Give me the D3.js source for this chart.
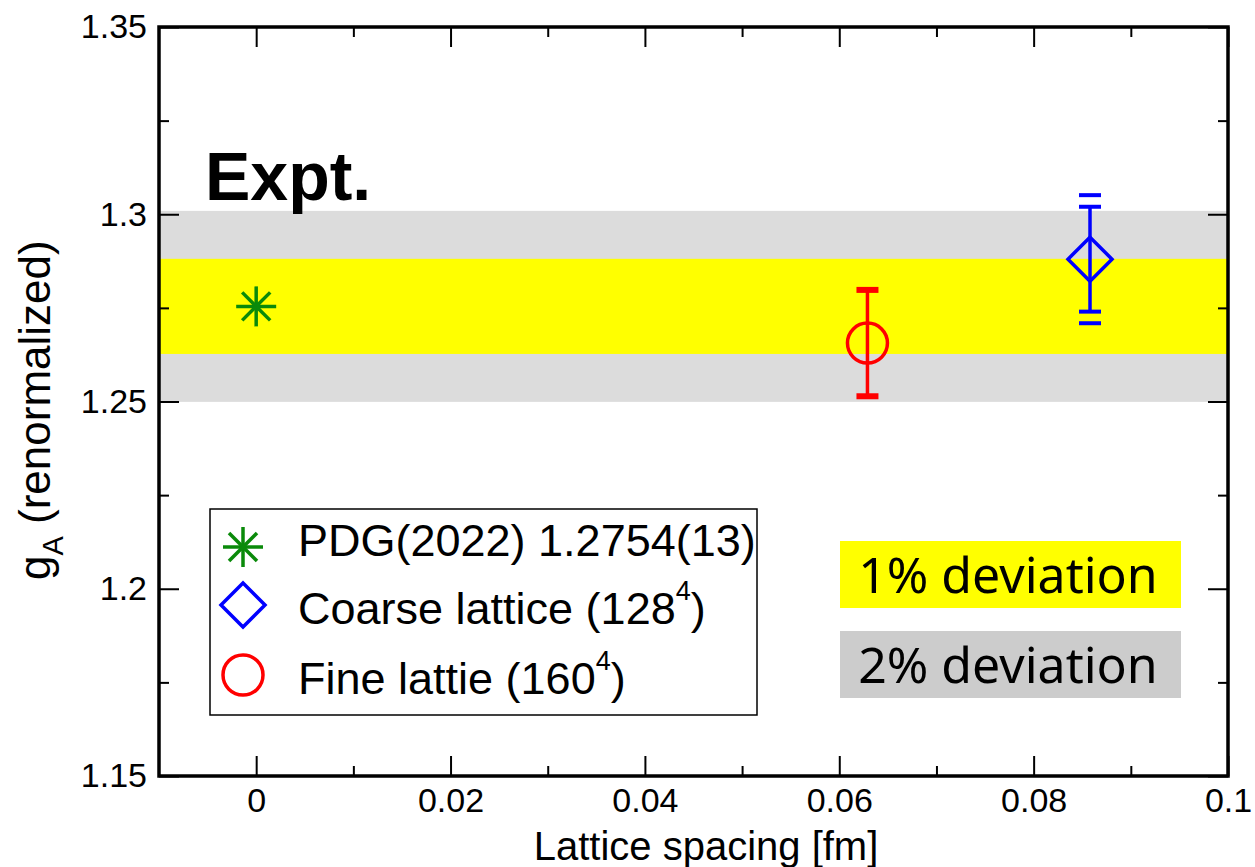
<!DOCTYPE html>
<html>
<head>
<meta charset="utf-8">
<script src="https://cdn.jsdelivr.net/npm/d3@7"></script>
<style>
  html, body { margin: 0; padding: 0; background: #fff; }
  svg { display: block; }
</style>
</head>
<body>
<div id="chart"></div>
<script>
// =======================
// g_A vs lattice spacing
// =======================

// Data
const seriesNames = ["PDG(2022) 1.2754(13)", "Coarse lattice (128", "Fine lattie (160"];
const spacing = [0, 0.0858, 0.0629];
const gA = [1.2754, 1.2880, 1.2656];
const errInner = [0, 0.0140, 0.0142];
const errOuter = [0, 0.0171, 0];
const seriesColors = ["#0a8a0a", "#0000ff", "#ff0000"];

// 2% and 1% deviation bands around the PDG value
const bandLow = [1.2499, 1.2627];
const bandHigh = [1.3009, 1.2881];
const bandColors = ["#dcdcdc", "#ffff00"];

// Ticks
const xMajor = [0, 0.02, 0.04, 0.06, 0.08, 0.1];
const xMajorLabels = ["0", "0.02", "0.04", "0.06", "0.08", "0.1"];
const xMinor = [0.01, 0.03, 0.05, 0.07, 0.09];
const yMajor = [1.15, 1.2, 1.25, 1.3, 1.35];
const yMajorLabels = ["1.15", "1.2", "1.25", "1.3", "1.35"];
const yMinor = [1.175, 1.225, 1.275, 1.325];

// Chart dimensions
const width = 1255, height = 867;
const margin = { top: 27, right: 27, bottom: 91, left: 159 };
const plotW = width - margin.left - margin.right,
      plotH = height - margin.top - margin.bottom;

const svg = d3.select("#chart")
  .append("svg")
    .attr("width", width)
    .attr("height", height)
    .style("font-family", "'Liberation Sans', Arial, sans-serif");

const g = svg.append("g")
    .attr("transform", `translate(${margin.left},${margin.top})`);

// Scales
const x = d3.scaleLinear().domain([-0.01, 0.1]).range([0, plotW]);
const y = d3.scaleLinear().domain([1.15, 1.35]).range([plotH, 0]);

// Bands
g.selectAll("rect.band")
  .data(bandLow)
  .enter()
  .append("rect")
    .attr("class", "band")
    .attr("x", 0)
    .attr("width", plotW)
    .attr("y", (d, i) => y(bandHigh[i]))
    .attr("height", (d, i) => y(d) - y(bandHigh[i]))
    .style("fill", (d, i) => bandColors[i]);

// Axes (ticks inward on all four sides)
function styleAxis(sel) {
  sel.select(".domain").remove();
  sel.selectAll(".tick line").attr("stroke", "#000").attr("stroke-width", 2);
  sel.selectAll(".tick text").attr("fill", "#000").style("font-size", "34px");
}

g.append("g")
  .attr("transform", `translate(0,${plotH})`)
  .call(d3.axisBottom(x).tickValues(xMajor).tickSize(-20).tickPadding(12)
    .tickFormat((d, i) => xMajorLabels[i]))
  .call(styleAxis);
g.append("g")
  .attr("transform", `translate(0,${plotH})`)
  .call(d3.axisBottom(x).tickValues(xMinor).tickSize(-10).tickFormat(""))
  .call(styleAxis);
g.append("g")
  .call(d3.axisTop(x).tickValues(xMajor).tickSize(-20).tickFormat(""))
  .call(styleAxis);
g.append("g")
  .call(d3.axisTop(x).tickValues(xMinor).tickSize(-10).tickFormat(""))
  .call(styleAxis);

g.append("g")
  .call(d3.axisLeft(y).tickValues(yMajor).tickSize(-20).tickPadding(12)
    .tickFormat((d, i) => yMajorLabels[i]))
  .call(styleAxis);
g.append("g")
  .call(d3.axisLeft(y).tickValues(yMinor).tickSize(-10).tickFormat(""))
  .call(styleAxis);
g.append("g")
  .attr("transform", `translate(${plotW},0)`)
  .call(d3.axisRight(y).tickValues(yMajor).tickSize(-20).tickFormat(""))
  .call(styleAxis);
g.append("g")
  .attr("transform", `translate(${plotW},0)`)
  .call(d3.axisRight(y).tickValues(yMinor).tickSize(-10).tickFormat(""))
  .call(styleAxis);

// Frame
g.append("rect")
  .attr("width", plotW)
  .attr("height", plotH)
  .style("fill", "none")
  .style("stroke", "#000")
  .style("stroke-width", 3.5);

// Symbols
function drawSymbol(sel, i, cx, cy) {
  const c = seriesColors[i];
  if (i === 0) {
    const r = 20, d = 14;
    [[-r, 0, r, 0], [0, -r, 0, r], [-d, -d, d, d], [-d, d, d, -d]].forEach(s => {
      sel.append("line")
        .attr("x1", cx + s[0]).attr("y1", cy + s[1])
        .attr("x2", cx + s[2]).attr("y2", cy + s[3])
        .style("stroke", c).style("stroke-width", 3.5);
    });
  } else if (i === 1) {
    const r = 22;
    sel.append("path")
      .attr("d", `M${cx},${cy - r}L${cx + r},${cy}L${cx},${cy + r}L${cx - r},${cy}Z`)
      .style("fill", "none").style("stroke", c).style("stroke-width", 3.5);
  } else {
    sel.append("circle")
      .attr("cx", cx).attr("cy", cy).attr("r", 20)
      .style("fill", "none").style("stroke", c).style("stroke-width", 3.5);
  }
}

// Points with error bars
spacing.forEach((a, i) => {
  const px = x(a), py = y(gA[i]), c = seriesColors[i];
  drawSymbol(g, i, px, py);
  if (errInner[i] > 0) {
    const capW = i === 2 ? 6 : 4;
    g.append("line")
      .attr("x1", px).attr("x2", px)
      .attr("y1", y(gA[i] + errInner[i])).attr("y2", y(gA[i] - errInner[i]))
      .style("stroke", c).style("stroke-width", 3.5);
    [gA[i] + errInner[i], gA[i] - errInner[i]].forEach(v => {
      g.append("line")
        .attr("x1", px - 11).attr("x2", px + 11)
        .attr("y1", y(v)).attr("y2", y(v))
        .style("stroke", c).style("stroke-width", capW);
    });
  }
  if (errOuter[i] > 0) {
    [gA[i] + errOuter[i], gA[i] - errOuter[i]].forEach(v => {
      g.append("line")
        .attr("x1", px - 11).attr("x2", px + 11)
        .attr("y1", y(v)).attr("y2", y(v))
        .style("stroke", c).style("stroke-width", 4);
    });
  }
});

// "Expt." label
svg.append("text")
  .attr("x", 205)
  .attr("y", 200)
  .style("font-size", "68px")
  .style("font-weight", "bold")
  .text("Expt.");

// Legend
svg.append("rect")
  .attr("x", 210).attr("y", 509)
  .attr("width", 547).attr("height", 206)
  .style("fill", "#fff")
  .style("stroke", "#000")
  .style("stroke-width", 1.5);

const legendRowY = [547, 605, 675];
const legendTextY = [556, 624, 694];
seriesNames.forEach((name, i) => {
  drawSymbol(svg, i, 243, legendRowY[i]);
  const t = svg.append("text")
    .attr("x", 298)
    .attr("y", legendTextY[i])
    .style("font-size", "45px")
    .text(name);
  if (i > 0) {
    t.append("tspan").attr("dy", -24).style("font-size", "27px").text("4");
    t.append("tspan").attr("dy", 24).text(")");
  }
});

// Deviation boxes
const devLabels = ["1% deviation", "2% deviation"];
const devColors = ["#ffff00", "#cccccc"];
const devBoxY = [541, 631];
devLabels.forEach((lab, i) => {
  svg.append("rect")
    .attr("x", 840).attr("y", devBoxY[i])
    .attr("width", 341).attr("height", 67)
    .style("fill", devColors[i]);
  svg.append("text")
    .attr("x", 1008)
    .attr("y", devBoxY[i] + 52)
    .attr("text-anchor", "middle")
    .style("font-family", "'Noto Sans', sans-serif")
    .style("font-size", "50px")
    .text(lab);
});

// Axis titles
svg.append("text")
  .attr("x", 706)
  .attr("y", 860)
  .attr("text-anchor", "middle")
  .style("font-size", "40px")
  .text("Lattice spacing [fm]");

const yTitle = svg.append("text")
  .attr("transform", "translate(50,580) rotate(-90)")
  .style("font-size", "44px")
  .text("g");
yTitle.append("tspan").attr("dy", 13).style("font-size", "29px").text("A");
yTitle.append("tspan").attr("dy", -13).text(" (renormalized)");
</script>
</body>
</html>
